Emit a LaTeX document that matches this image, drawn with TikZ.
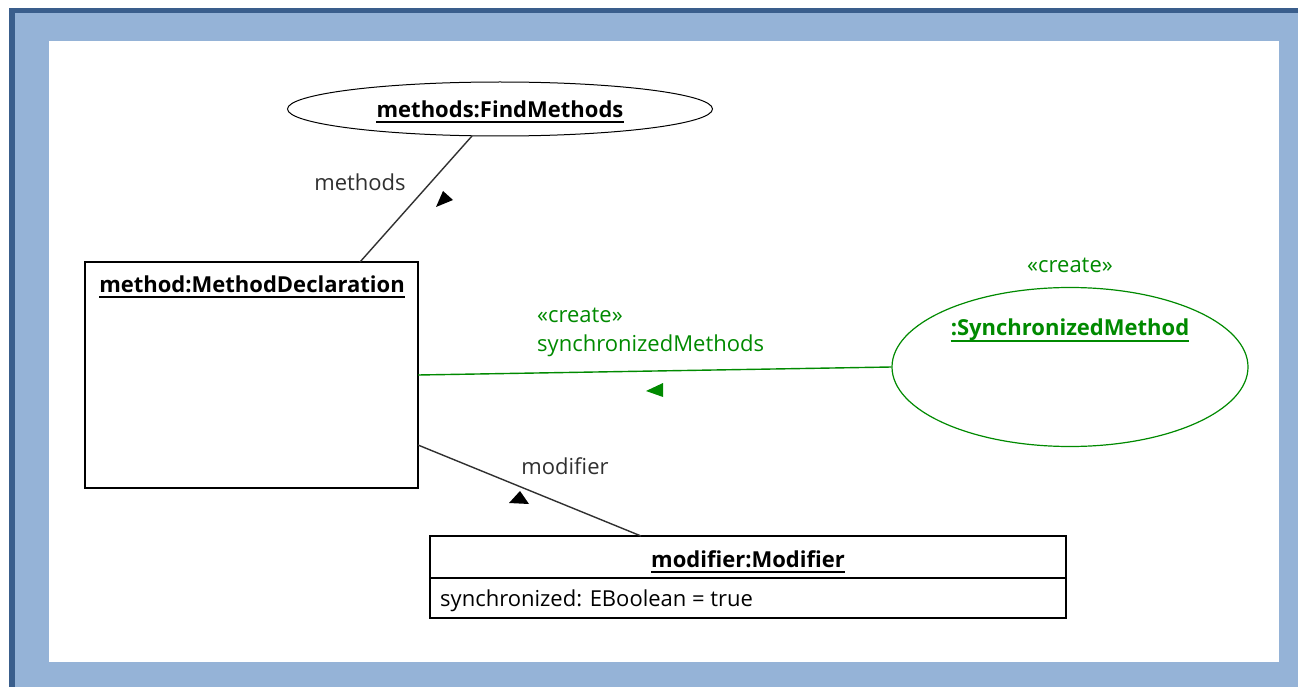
\documentclass[tikz,border=0pt]{standalone}
\usepackage{fontspec}
\setmainfont{Open Sans}
\usetikzlibrary{shapes.geometric}

\definecolor{frameDark}{HTML}{3A5E8C}
\definecolor{frameLight}{HTML}{95B3D7}
\definecolor{createGreen}{HTML}{008A00}
\definecolor{lineGray}{HTML}{303030}

\tikzset{
  objbox/.style={draw=black, line width=1.4pt, fill=white},
  objellipse/.style={ellipse, draw=black, line width=1pt, inner sep=0pt},
  greenellipse/.style={ellipse, draw=createGreen, line width=1.2pt, inner sep=0pt},
  title/.style={font=\fontsize{22}{25}\selectfont\bfseries, inner sep=0pt},
  lbl/.style={font=\fontsize{22}{25}\selectfont, inner sep=0pt, text=lineGray},
  greenlbl/.style={lbl, text=createGreen},
  link/.style={draw=lineGray, line width=1.4pt},
  greenlink/.style={draw=createGreen, line width=1.4pt},
  dirmark/.style={fill=black},
  greenmark/.style={fill=createGreen},
  underl/.style={line width=1.8pt},
}
% underline below a named title node
\newcommand\titleline[2][black]{%
  \draw[underl, #1] ([yshift=-5pt]#2.base west) -- ([yshift=-5pt]#2.base east);}

\begin{document}
\begin{tikzpicture}[x=1pt, y=-1pt]
  % frame
  \useasboundingbox (0,0) rectangle (1298,687);
  \fill[white] (0,0) rectangle (1298,687);
  \fill[frameLight] (9,9) rectangle (1298,687);
  \fill[frameDark] (9,8) rectangle (1298,13.5);
  \fill[frameDark] (9,8) rectangle (14.5,687);
  \fill[white] (49,41) rectangle (1279,662);

  % FindMethods object
  \node[objellipse, minimum width=425pt, minimum height=54pt] (find) at (500,109) {};
  \node[title] (findT) at (500,109) {methods:FindMethods};
  \titleline{findT}

  % MethodDeclaration object
  \node[objbox, minimum width=333pt, minimum height=226pt] (decl) at (251.5,375) {};
  \node[title] (declT) at (252,284) {method:MethodDeclaration};
  \titleline{declT}

  % SynchronizedMethod (created)
  \node[greenellipse, minimum width=356pt, minimum height=159pt] (sync) at (1070,367) {};
  \node[title, text=createGreen] (syncT) at (1070,330) {:SynchronizedMethod};
  \titleline[createGreen]{syncT}
  \node[greenlbl] (syncS) at (1070,265) {«create»};

  % Modifier object
  \node[objbox, minimum width=636pt, minimum height=82pt] (mod) at (748,577) {};
  \draw[line width=1.4pt] (mod.west |- 0,578) coordinate (divL) -- (mod.east |- 0,578) coordinate (divR);
  \node[title] (modT) at (748,559) {modifier:Modifier};
  \titleline{modT}
  \node[lbl, anchor=west, text=black] (modA) at (440,601) {synchronized: EBoolean = true};

  % methods link
  \coordinate (declTop) at (360,262);
  \coordinate (findBot) at (472,136);
  \draw[link] (declTop) -- (findBot);
  \node[lbl] (methodsL) at (360,182) {methods};
  \fill[dirmark] (436,207) -- (443,191) -- (453,200) -- cycle;

  % synchronizedMethods link
  \coordinate (declR) at (418,375);
  \draw[greenlink] (declR) -- (sync.west);
  \node[greenlbl, anchor=west] (createL) at (537,315) {«create»};
  \node[greenlbl, anchor=west] (syncL) at (537,346) {synchronizedMethods};
  \fill[greenmark] (646,391) -- (663,383) -- (663,397) -- cycle;

  % modifier link
  \coordinate (declBR) at (418,445);
  \coordinate (modTop) at (641,536);
  \draw[link] (declBR) -- (modTop);
  \node[lbl] (modL) at (565,466) {modifier};
  \fill[dirmark] (520,491) -- (509,503) -- (529,504) -- cycle;
\end{tikzpicture}
\end{document}
